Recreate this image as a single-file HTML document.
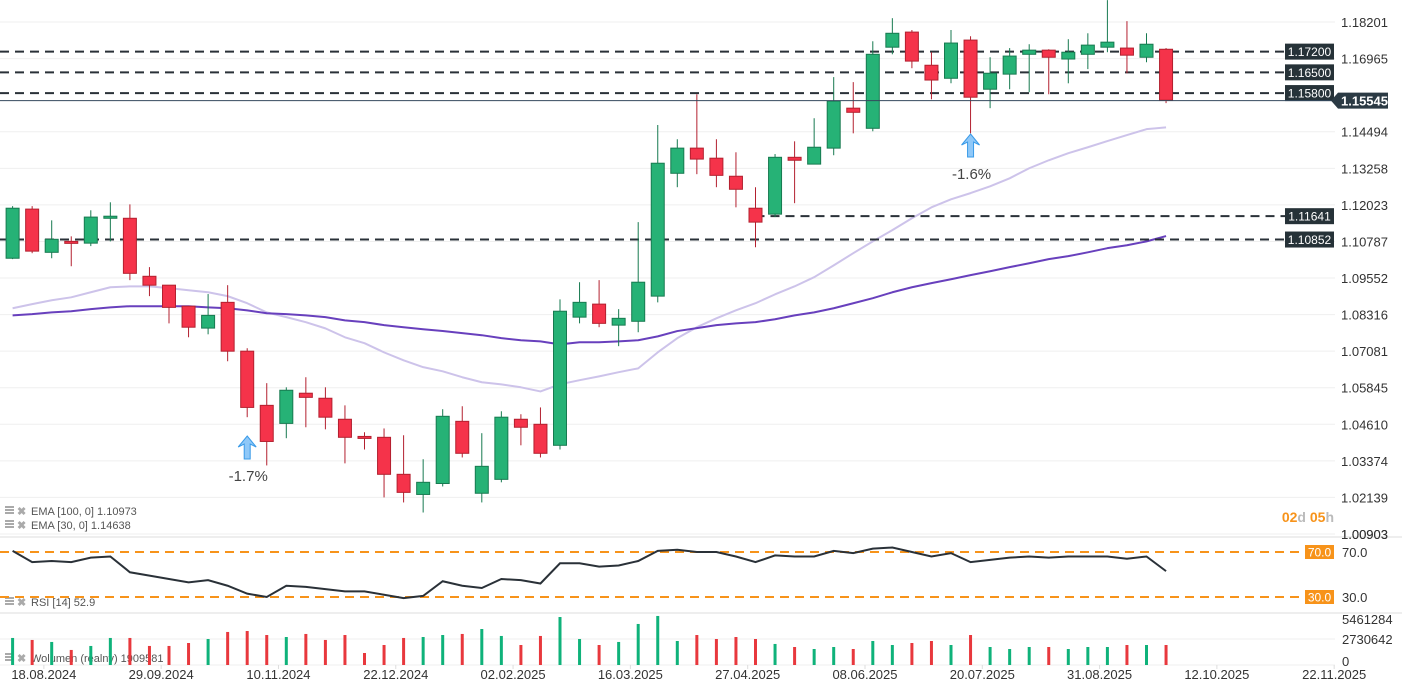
<!DOCTYPE html>
<html><head><meta charset="utf-8"><style>
html,body{margin:0;padding:0;background:#fff;width:1402px;height:691px;overflow:hidden}
svg{display:block;font-family:"Liberation Sans",sans-serif}
</style></head><body>
<svg id="chart" width="1402" height="691" viewBox="0 0 1402 691" xmlns="http://www.w3.org/2000/svg"></svg>
<script>
const opens=[1.1022,1.1188,1.1042,1.1079,1.1073,1.1157,1.1157,1.0961,1.0931,1.0860,1.0786,1.0873,1.0708,1.0525,1.0464,1.0566,1.0549,1.0478,1.0420,1.0417,1.0292,1.0224,1.0261,1.0471,1.0228,1.0275,1.0478,1.0461,1.0390,1.0823,1.0867,1.0796,1.0809,1.0894,1.1309,1.1394,1.1360,1.1299,1.1191,1.1171,1.1363,1.1340,1.1394,1.1529,1.1461,1.1735,1.1786,1.1674,1.1630,1.1759,1.1593,1.1644,1.1711,1.1725,1.1695,1.1711,1.1735,1.1732,1.1701,1.1728];
const highs=[1.1198,1.1198,1.1150,1.1096,1.1184,1.1211,1.1204,1.0992,1.0931,1.0860,1.0901,1.0931,1.0718,1.0600,1.0586,1.0620,1.0586,1.0525,1.0434,1.0447,1.0424,1.0343,1.0512,1.0522,1.0431,1.0505,1.0495,1.0518,1.0883,1.0941,1.0948,1.0850,1.1144,1.1472,1.1424,1.1576,1.1424,1.1380,1.1262,1.1374,1.1417,1.1495,1.1634,1.1617,1.1755,1.1833,1.1793,1.1718,1.1793,1.1772,1.1701,1.1732,1.1745,1.1728,1.1762,1.1782,1.1894,1.1823,1.1782,1.1732];
const lows=[1.1019,1.1039,1.1022,1.0995,1.1063,1.1079,1.0948,1.0894,1.0802,1.0755,1.0765,1.0674,1.0485,1.0322,1.0414,1.0451,1.0444,1.0329,1.0376,1.0214,1.0197,1.0163,1.0251,1.0349,1.0197,1.0265,1.0390,1.0349,1.0376,1.0802,1.0789,1.0725,1.0772,1.0873,1.1262,1.1306,1.1262,1.1194,1.1059,1.1161,1.1208,1.1340,1.1370,1.1444,1.1451,1.1711,1.1664,1.1559,1.1613,1.1444,1.1529,1.1593,1.1583,1.1576,1.1613,1.1661,1.1718,1.1647,1.1684,1.1546];
const closes=[1.1191,1.1046,1.1086,1.1073,1.1161,1.1164,1.0971,1.0931,1.0856,1.0789,1.0829,1.0708,1.0518,1.0403,1.0576,1.0552,1.0485,1.0417,1.0414,1.0292,1.0231,1.0265,1.0488,1.0363,1.0319,1.0485,1.0451,1.0363,1.0843,1.0873,1.0802,1.0819,1.0941,1.1343,1.1394,1.1357,1.1302,1.1255,1.1144,1.1363,1.1353,1.1397,1.1553,1.1515,1.1711,1.1782,1.1688,1.1624,1.1749,1.1566,1.1647,1.1705,1.1725,1.1701,1.1718,1.1742,1.1752,1.1708,1.1745,1.1556];
const ema30=[1.0853,1.0867,1.0880,1.0890,1.0907,1.0924,1.0927,1.0927,1.0921,1.0914,1.0907,1.0894,1.0870,1.0839,1.0823,1.0806,1.0785,1.0755,1.0735,1.0704,1.0677,1.0654,1.0640,1.0620,1.0603,1.0596,1.0586,1.0572,1.0596,1.0610,1.0623,1.0637,1.0650,1.0704,1.0752,1.0789,1.0819,1.0846,1.0870,1.0900,1.0927,1.0958,1.0998,1.1039,1.1079,1.1117,1.1157,1.1194,1.1221,1.1242,1.1265,1.1292,1.1326,1.1353,1.1377,1.1397,1.1418,1.1438,1.1458,1.1464];
const ema100=[1.0829,1.0833,1.0839,1.0843,1.0850,1.0856,1.0860,1.0860,1.0860,1.0860,1.0856,1.0853,1.0846,1.0836,1.0833,1.0829,1.0823,1.0812,1.0806,1.0796,1.0789,1.0782,1.0776,1.0769,1.0762,1.0752,1.0745,1.0741,1.0731,1.0738,1.0738,1.0741,1.0745,1.0758,1.0776,1.0786,1.0796,1.0802,1.0806,1.0816,1.0829,1.0839,1.0853,1.0870,1.0887,1.0907,1.0924,1.0938,1.0951,1.0965,1.0978,1.0992,1.1005,1.1019,1.1029,1.1042,1.1056,1.1066,1.1079,1.1097];
const rsi=[71,61,62,61,65,66,52,49,46,43,45,40,33,30,40,39,37,35,35,32,29,31,44,40,38,46,45,42,60,60,57,58,62,71,72,70,70,66,61,67,66,66,71,69,73,74,70,66,69,61,63,65,66,65,66,66,66,64,66,53];
const volumes=[2.84,2.63,2.42,1.58,2.00,2.84,2.84,2.00,2.00,2.31,2.73,3.47,3.57,3.15,2.94,3.26,2.63,3.15,1.26,2.10,2.84,2.94,3.15,3.26,3.78,3.05,2.10,3.05,5.04,2.73,2.10,2.42,4.31,5.15,2.52,3.15,2.73,2.94,2.73,2.21,1.89,1.68,1.89,1.68,2.52,2.10,2.31,2.52,2.10,3.15,1.89,1.68,1.89,1.89,1.68,1.89,1.89,2.10,2.10,2.10];
const priceTicks=["1.18201","1.16965","1.14494","1.13258","1.12023","1.10787","1.09552","1.08316","1.07081","1.05845","1.04610","1.03374","1.02139","1.00903"];
const dateLabels=["18.08.2024","29.09.2024","10.11.2024","22.12.2024","02.02.2025","16.03.2025","27.04.2025","08.06.2025","20.07.2025","31.08.2025","12.10.2025","22.11.2025"];
const levels=[1.17200,1.16500,1.15800,1.11641,1.10852];
const levelStart=[-1,-1,-1,38,-1];
const lastPrice=1.15545;

const NS="http://www.w3.org/2000/svg";
const svg=document.getElementById('chart');
function el(tag,attrs,parent){const e=document.createElementNS(NS,tag);for(const k in attrs)e.setAttribute(k,attrs[k]);(parent||svg).appendChild(e);return e;}
const xAt=i=>12.6+i*19.55;
const yP=p=>22+(1.18201-p)*2960;
const yR=r=>552+(70-r)*1.125;
const yV=v=>665-v/5.461284*52;
const PW=1335;

const grid=el('g',{});


priceTicks.forEach(t=>{const y=yP(+t);el('line',{x1:0,x2:PW,y1:y,y2:y,stroke:'#efefef','stroke-width':1},grid);
 const tx=el('text',{x:1341,y:y+5,'font-size':13,fill:'#333'});tx.textContent=t;
 
 });
[537,613].forEach(y=>{const l=el('line',{x1:0,x2:1402,y1:y,y2:y,stroke:'#ddd','stroke-width':1});
 
 });
el('line',{x1:0,x2:PW,y1:639,y2:639,stroke:'#efefef'});
el('line',{x1:0,x2:PW,y1:665,y2:665,stroke:'#efefef'});

function line(arr,color,w,name){const pts=arr.map((v,i)=>xAt(i)+','+yP(v)).join(' ');
 const pl=el('polyline',{points:pts,fill:'none',stroke:color,'stroke-width':w,'stroke-linejoin':'round'});
 
 }
line(ema30,'#cdc3ea',2,'ema-30-line');
line(ema100,'#6840bd',2,'ema-100-line');

levels.forEach((lv,k)=>{const y=yP(lv);
 const x1=levelStart[k]<0?0:xAt(levelStart[k]);
 const l=el('line',{x1:x1,x2:1286,y1:y,y2:y,stroke:'#2a3138','stroke-width':2,'stroke-dasharray':'9,6'});
 
 
 const r=el('rect',{x:1285,y:y-8,width:49,height:16,fill:'#263238'});
 
 
 const t=el('text',{x:1309.5,y:y+4.5,'font-size':12,fill:'#fff','text-anchor':'middle'});t.textContent=lv.toFixed(5);});

const cg=el('g',{});


opens.forEach((o,i)=>{const c=closes[i],up=c>=o,x=xAt(i);
 const col=up?'#26b276':'#f5334a',stk=up?'#177a50':'#b3202f';
 const w=el('line',{x1:x,x2:x,y1:yP(highs[i]),y2:yP(lows[i]),stroke:stk,'stroke-width':1},cg);
 
 
 const t=Math.min(yP(o),yP(c)),h=Math.max(2,Math.abs(yP(o)-yP(c)));
 const b=el('rect',{x:x-6.5,y:t,width:13,height:h,fill:col,stroke:stk,'stroke-width':1},cg);
 
 });

const cy=yP(lastPrice);
el('line',{x1:0,x2:1335,y1:cy,y2:cy,stroke:'#34495e','stroke-width':1});
const cp=el('path',{d:`M1331 ${cy} L1338 ${cy-8} L1388 ${cy-8} L1388 ${cy+8} L1338 ${cy+8} Z`,fill:'#2b3a44'});


const cpt=el('text',{x:1341,y:cy+5,'font-size':13,'font-weight':'bold',fill:'#fff'});cpt.textContent='1.15545';

function arrow(i,yTop,label){const x=xAt(i);
 const a=el('path',{d:`M${x} ${yTop} L${x+9} ${yTop+11} L${x+3} ${yTop+8} L${x+3} ${yTop+23} L${x-3} ${yTop+23} L${x-3} ${yTop+8} L${x-9} ${yTop+11} Z`,fill:'#8fc8f8',stroke:'#3a9be8','stroke-width':1});
 
 
 const t=el('text',{x:x+1,y:yTop+45,'font-size':15,fill:'#444','text-anchor':'middle'});t.textContent=label;
 
 }
arrow(12,436,'-1.7%');
arrow(49,134,'-1.6%');

function legend(y,txt,name){const g=el('g',{});
 
 
 [0,3,6].forEach(d=>el('rect',{x:5,y:y-9+d,width:9,height:2,fill:'#aaa'},g));
 const x=el('text',{x:17,y:y,'font-size':11,fill:'#aaa','font-weight':'bold'},g);x.textContent='✖';
 const t=el('text',{x:31,y:y,'font-size':11,fill:'#555'},g);t.textContent=txt;}
legend(515,'EMA [100,  0] 1.10973','ema-100-legend');
legend(529,'EMA [30,  0] 1.14638','ema-30-legend');
legend(606,'RSI [14]  52.9','rsi-legend');
legend(662,'Wolumen  (realny)  1909581','volume-legend');

const cd=el('text',{x:1334,y:522,'font-size':14,'font-weight':'bold','text-anchor':'end',fill:'#f7931a'});


cd.innerHTML='02<tspan fill="#bbb">d</tspan> 05<tspan fill="#bbb">h</tspan>';
el('text',{x:1341,y:539,'font-size':13,fill:'#333'}).textContent='1.00903';

[70,30].forEach(v=>{const y=yR(v);
 const l=el('line',{x1:0,x2:1305,y1:y,y2:y,stroke:'#f7931a','stroke-width':2,'stroke-dasharray':'9,6'});
 
 
 el('rect',{x:1305,y:y-7,width:29,height:14,fill:'#f7931a'});
 const t=el('text',{x:1319.5,y:y+4.5,'font-size':12,fill:'#fff','text-anchor':'middle'});t.textContent=v.toFixed(1);
 const t2=el('text',{x:1342,y:y+5,'font-size':13,fill:'#333'});t2.textContent=v.toFixed(1);});
const rl=el('polyline',{points:rsi.map((v,i)=>xAt(i)+','+yR(v)).join(' '),fill:'none',stroke:'#2a3138','stroke-width':2});



volumes.forEach((v,i)=>{const up=closes[i]>=opens[i];
 const r=el('rect',{x:xAt(i)-1.5,y:yV(v),width:3,height:665-yV(v),fill:up?'#0fb27a':'#e8383d'});
 
 });
[['5461284',624],['2730642',644],['0',666]].forEach(([t,y])=>{const e=el('text',{x:1342,y:y,'font-size':13,fill:'#333'});e.textContent=t;});

dateLabels.forEach((d,k)=>{const x=xAt(1.6+6*k);
 el('line',{x1:x,x2:x,y1:665,y2:669,stroke:'#ddd'});
 const t=el('text',{x:x,y:679,'font-size':13,fill:'#333','text-anchor':'middle'});t.textContent=d;
 
 });
</script>
</body></html>
